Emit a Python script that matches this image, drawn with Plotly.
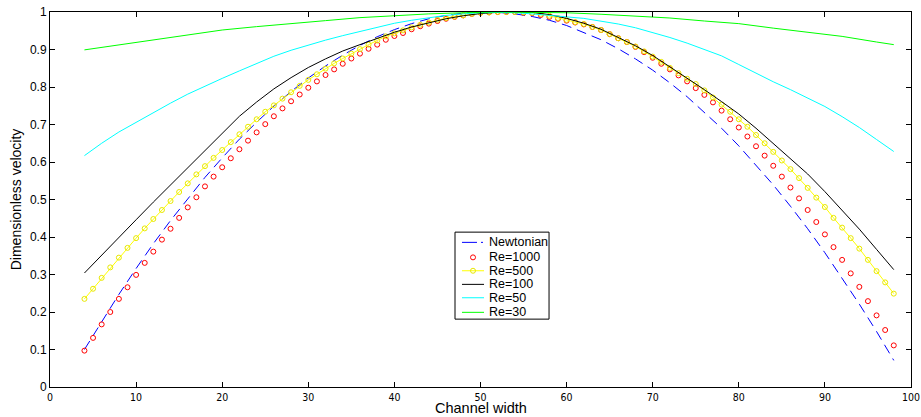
import plotly.graph_objects as go

# ---- data ----
x_newt = [4, 6, 8, 10, 12, 14, 16, 18, 20, 22, 24, 26, 28, 30, 32, 34, 36, 38, 40, 42, 44, 46, 48, 50,
          52, 54, 56, 58, 60, 62, 64, 66, 68, 70, 72, 74, 76, 78, 80, 82, 84, 86, 88, 90, 92, 94, 96, 98]
v_newt = [0.100, 0.175, 0.247, 0.316, 0.382, 0.444, 0.503, 0.559, 0.611, 0.661, 0.706, 0.749, 0.788,
          0.824, 0.856, 0.885, 0.911, 0.934, 0.953, 0.969, 0.982, 0.991, 0.997, 1.000, 0.999, 0.995,
          0.988, 0.978, 0.964, 0.946, 0.926, 0.902, 0.875, 0.845, 0.811, 0.774, 0.733, 0.690, 0.643,
          0.592, 0.539, 0.482, 0.422, 0.358, 0.291, 0.221, 0.148, 0.071]

x_re1000 = list(range(4, 99))
v_re1000 = [0.097, 0.131, 0.167, 0.200, 0.235, 0.266, 0.299, 0.331, 0.361, 0.393, 0.422, 0.451, 0.479,
            0.506, 0.535, 0.561, 0.586, 0.610, 0.634, 0.657, 0.679, 0.701, 0.722, 0.743, 0.762, 0.780,
            0.798, 0.815, 0.832, 0.847, 0.862, 0.876, 0.889, 0.902, 0.913, 0.926, 0.936, 0.944, 0.954,
            0.962, 0.969, 0.976, 0.982, 0.987, 0.991, 0.995, 0.998, 0.999, 1.000, 1.000, 1.000, 0.998,
            0.997, 0.992, 0.987, 0.982, 0.977, 0.972, 0.967, 0.960, 0.952, 0.941, 0.930, 0.920, 0.907,
            0.893, 0.878, 0.862, 0.847, 0.831, 0.815, 0.797, 0.779, 0.759, 0.737, 0.714, 0.692, 0.668,
            0.642, 0.617, 0.590, 0.561, 0.532, 0.503, 0.472, 0.440, 0.407, 0.373, 0.339, 0.303, 0.267,
            0.229, 0.191, 0.152, 0.111]

x_re500 = list(range(4, 99))
v_re500 = [0.235, 0.262, 0.291, 0.319, 0.345, 0.371, 0.397, 0.423, 0.448, 0.472, 0.496, 0.520, 0.543,
           0.567, 0.589, 0.611, 0.632, 0.653, 0.674, 0.694, 0.714, 0.734, 0.751, 0.769, 0.786, 0.803,
           0.819, 0.834, 0.849, 0.863, 0.876, 0.889, 0.901, 0.913, 0.924, 0.935, 0.943, 0.951, 0.959,
           0.966, 0.972, 0.979, 0.984, 0.988, 0.991, 0.995, 0.998, 0.999, 1.000, 1.000, 1.000, 0.999,
           0.998, 0.995, 0.990, 0.984, 0.979, 0.973, 0.968, 0.960, 0.952, 0.941, 0.930, 0.920, 0.908,
           0.895, 0.881, 0.867, 0.851, 0.837, 0.822, 0.808, 0.791, 0.772, 0.753, 0.734, 0.714, 0.694,
           0.672, 0.650, 0.627, 0.604, 0.581, 0.557, 0.531, 0.505, 0.480, 0.451, 0.425, 0.397, 0.369,
           0.339, 0.309, 0.279, 0.249]

x_re100 = [4, 6, 8, 10, 12, 14, 16, 18, 20, 22, 24, 26, 28, 30, 32, 34, 36, 38, 40, 42, 44, 46, 48, 50,
           52, 54, 56, 58, 60, 62, 64, 66, 68, 70, 72, 74, 76, 78, 80, 82, 84, 86, 88, 90, 92, 94, 96, 98]
v_re100 = [0.304, 0.352, 0.399, 0.446, 0.493, 0.539, 0.585, 0.631, 0.677, 0.722, 0.760, 0.795, 0.825,
           0.852, 0.875, 0.896, 0.913, 0.930, 0.946, 0.960, 0.972, 0.982, 0.990, 0.996, 0.999, 1.000,
           0.999, 0.993, 0.983, 0.970, 0.954, 0.933, 0.910, 0.884, 0.854, 0.824, 0.793, 0.761, 0.728,
           0.690, 0.650, 0.610, 0.568, 0.521, 0.472, 0.421, 0.367, 0.313]

x_re50 = [4, 6, 8, 10, 12, 14, 16, 18, 20, 22, 24, 26, 28, 30, 32, 34, 36, 38, 40, 42, 44, 46, 48, 50,
          52, 54, 56, 58, 60, 62, 64, 66, 68, 70, 72, 74, 76, 78, 80, 82, 84, 86, 88, 90, 92, 94, 96, 98]
v_re50 = [0.617, 0.650, 0.680, 0.706, 0.732, 0.757, 0.781, 0.803, 0.823, 0.843, 0.863, 0.882, 0.898,
          0.912, 0.925, 0.937, 0.948, 0.960, 0.970, 0.978, 0.985, 0.991, 0.995, 0.998, 0.999, 0.998,
          0.995, 0.990, 0.987, 0.983, 0.976, 0.968, 0.958, 0.946, 0.932, 0.917, 0.900, 0.883, 0.860,
          0.836, 0.814, 0.793, 0.771, 0.748, 0.721, 0.692, 0.660, 0.628]

x_re30 = [4, 8, 12, 16, 20, 24, 28, 32, 36, 40, 44, 48, 52, 56, 60, 64, 68, 72, 76, 80, 84, 88, 92, 96, 98]
v_re30 = [0.899, 0.912, 0.925, 0.940, 0.952, 0.961, 0.968, 0.977, 0.985, 0.991, 0.995, 0.998, 1.000,
          0.999, 0.998, 0.994, 0.990, 0.984, 0.976, 0.969, 0.957, 0.947, 0.935, 0.920, 0.913]

x_ticks = [0, 10, 20, 30, 40, 50, 60, 70, 80, 90, 100]
y_ticks = [0, 0.1, 0.2, 0.3, 0.4, 0.5, 0.6, 0.7, 0.8, 0.9, 1]
y_tick_text = ["0", "0.1", "0.2", "0.3", "0.4", "0.5", "0.6", "0.7", "0.8", "0.9", "1"]

legend_names = ["Newtonian", "Re=1000", "Re=500", "Re=100", "Re=50", "Re=30"]
colors = ["#0000ff", "#ff0000", "#ffff00", "#000000", "#00ffff", "#00ff00"]

FONT = "Liberation Sans, Arial, sans-serif"
NARROW = "Liberation Sans Narrow, Arial Narrow, DejaVu Sans Condensed, Liberation Sans, Arial, sans-serif"

fig = go.Figure()
fig.add_trace(go.Scatter(x=x_newt, y=v_newt, mode="lines", name=legend_names[0],
                         line=dict(color=colors[0], width=1, dash="10px,6px")))
fig.add_trace(go.Scatter(x=x_re1000, y=v_re1000, mode="markers", name=legend_names[1],
                         marker=dict(symbol="circle-open", size=5, color=colors[1],
                                     line=dict(width=1, color=colors[1]))))
fig.add_trace(go.Scatter(x=x_re500, y=v_re500, mode="lines+markers", name=legend_names[2],
                         line=dict(color=colors[2], width=1),
                         marker=dict(symbol="circle-open", size=5, color="#e8e800",
                                     line=dict(width=1, color="#e8e800"))))
fig.add_trace(go.Scatter(x=x_re100, y=v_re100, mode="lines", name=legend_names[3],
                         line=dict(color=colors[3], width=1)))
fig.add_trace(go.Scatter(x=x_re50, y=v_re50, mode="lines", name=legend_names[4],
                         line=dict(color=colors[4], width=1)))
fig.add_trace(go.Scatter(x=x_re30, y=v_re30, mode="lines", name=legend_names[5],
                         line=dict(color=colors[5], width=1)))

# ---- compact MATLAB-style legend box (paper coordinates) ----
shapes = [dict(type="rect", xref="paper", yref="paper", x0=0.4704, x1=0.5796, y0=0.181, y1=0.413,
               line=dict(color="black", width=1), fillcolor="white", layer="above")]
annotations = []
entry_y = [0.3857, 0.3457, 0.3100, 0.2737, 0.2380, 0.1991]
lx0, lx1, lxm, tx = 0.4785, 0.5041, 0.4913, 0.5075
for i, (name, col, ey) in enumerate(zip(legend_names, colors, entry_y)):
    if i == 0:
        shapes.append(dict(type="line", xref="paper", yref="paper", x0=lx0, x1=lx1, y0=ey, y1=ey,
                           line=dict(color=col, width=1, dash="15px,4px,2px"), layer="above"))
    elif i >= 2:
        shapes.append(dict(type="line", xref="paper", yref="paper", x0=lx0, x1=lx1, y0=ey, y1=ey,
                           line=dict(color=col, width=1), layer="above"))
    if i in (1, 2):
        mc = "#ff0000" if i == 1 else "#e8e800"
        shapes.append(dict(type="circle", xref="paper", yref="paper", xsizemode="pixel",
                           ysizemode="pixel", xanchor=lxm, yanchor=ey, x0=-2.5, x1=2.5, y0=-2.5, y1=2.5,
                           line=dict(color=mc, width=1), layer="above"))
    annotations.append(dict(text=name, xref="paper", yref="paper", x=tx, y=ey, xanchor="left",
                            yanchor="middle", showarrow=False,
                            font=dict(family=FONT, size=12.5, color="black")))

# x-axis title placed just under the tick labels
annotations.append(dict(text="Channel width", xref="paper", yref="paper", x=0.5, y=-0.057,
                        xanchor="center", yanchor="middle", showarrow=False,
                        font=dict(family=FONT, size=14.5, color="black")))

axis_common = dict(showgrid=False, zeroline=False, showline=True, linecolor="black", linewidth=1,
                   mirror="ticks", ticks="inside", ticklen=5, tickcolor="black", tickwidth=1,
                   ticklabeloverflow="allow", automargin=False)

fig.update_layout(
    template="none",
    width=921, height=417,
    margin=dict(l=50, r=10, t=12, b=30),
    paper_bgcolor="white", plot_bgcolor="white",
    font=dict(family=FONT, size=12, color="black"),
    xaxis=dict(range=[0, 100], tickvals=x_ticks,
               tickfont=dict(family=NARROW, size=10.5, color="black"),
               **axis_common),
    yaxis=dict(range=[0, 1], tickvals=y_ticks, ticktext=y_tick_text,
               tickfont=dict(family=FONT, size=12, color="black"),
               title=dict(text="Dimensionless velocity", font=dict(family=FONT, size=14), standoff=5),
               **axis_common),
    showlegend=False,
    hovermode=False,
    shapes=shapes,
    annotations=annotations,
)

# remove the default 8px page margin so the 921x417 figure fills the window exactly
fig.write_html("out.html",
               config={"displayModeBar": False, "staticPlot": True},
               post_script="document.body.style.margin='0px';document.body.style.overflow='hidden';")
